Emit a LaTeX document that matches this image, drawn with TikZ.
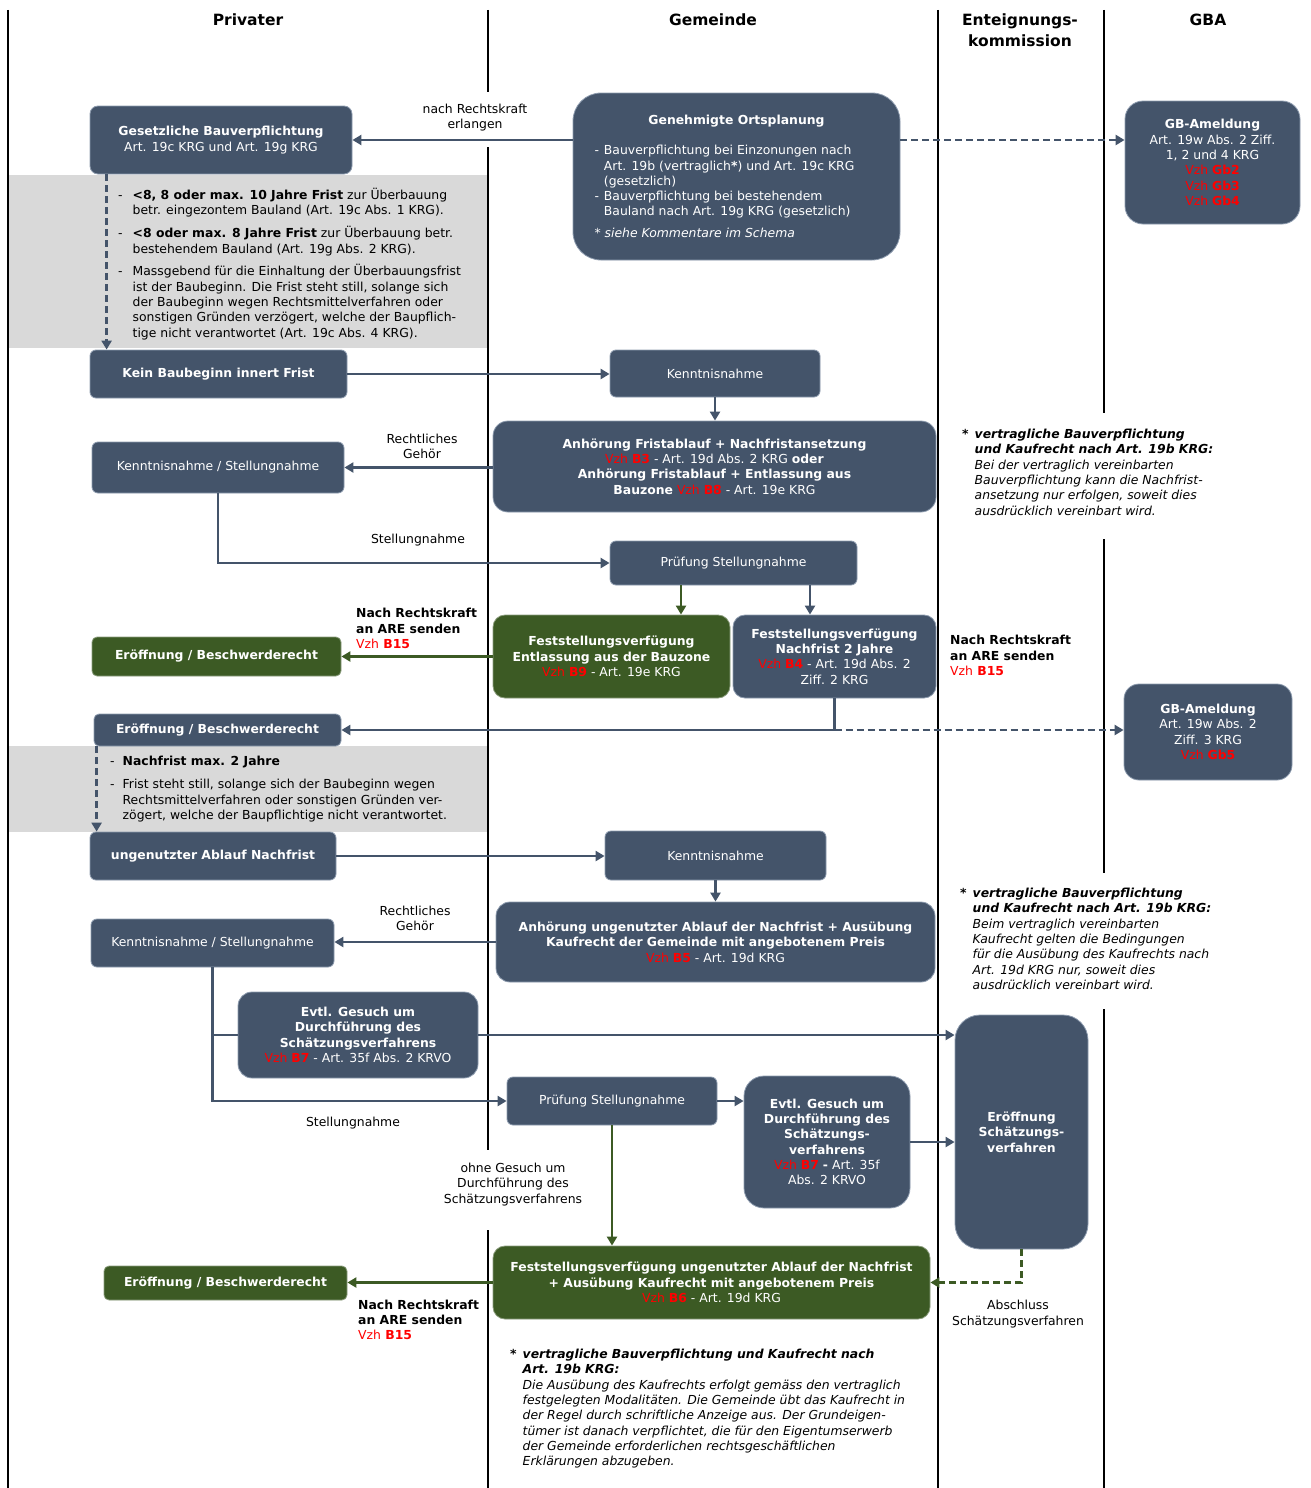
\documentclass[tikz,border=0pt]{standalone}
\usepackage{fontspec}
\setmainfont{DejaVu Sans}
\usetikzlibrary{arrows.meta}
\definecolor{boxblue}{HTML}{44546A}
\definecolor{boxgreen}{HTML}{3C5A24}
\definecolor{bandgray}{HTML}{D9D9D9}
\definecolor{vred}{HTML}{FF0000}
\definecolor{rimblue}{HTML}{8D9BAE}
\newcommand{\vzh}[1]{{\color{vred}\textmd{Vzh} \textbf{#1}}}
\newcommand{\fs}{\fontsize{12.4}{15.3}\selectfont}
\newcommand{\hfs}{\fontsize{15.5}{21}\selectfont}
\tikzset{
  bxbase/.style={fill=boxblue, draw=rimblue, line width=0.8pt, text=white, inner sep=0pt, font=\fs},
  bx/.style={bxbase, align=center},
  gbx/.style={bx, fill=boxgreen, draw=boxgreen!60!white},
  conn/.style={draw=boxblue, line width=2.4pt, -{Triangle[length=9pt,width=10pt]}},
  plainline/.style={draw=boxblue, line width=2.4pt},
  gconn/.style={draw=boxgreen, line width=2.4pt, -{Triangle[length=9pt,width=10pt]}},
  dconn/.style={conn, dash pattern=on 7pt off 4pt},
  gdconn/.style={gconn, dash pattern=on 7pt off 4pt},
  colline/.style={draw=black, line width=2pt},
  lbl/.style={font=\fs, align=center, inner sep=0pt, text=black},
  blbl/.style={font=\fs\bfseries, align=left, inner sep=0pt, text=black, anchor=west},
  hdr/.style={font=\hfs\bfseries, align=center, inner sep=0pt, text=black},
  bandtxt/.style={font=\fs, inner sep=0pt, text=black, anchor=base west},
}
\begin{document}
\begin{tikzpicture}[x=1pt,y=-1pt]
\useasboundingbox (0,0) rectangle (1311,1488);

% grey bands
\fill[bandgray] (8,175) rectangle (488,348);
\fill[bandgray] (8,746) rectangle (488,832);

% column lines
\draw[colline] (8,10) -- (8,1488);
\draw[colline] (488,10) -- (488,92);
\draw[colline] (488,147) -- (488,1150);
\draw[colline] (488,1230) -- (488,1488);
\draw[colline] (938,10) -- (938,1488);
\draw[colline] (1104,10) -- (1104,413);
\draw[colline] (1104,539) -- (1104,873);
\draw[colline] (1104,1009) -- (1104,1488);

% headers
\node[hdr] (hpriv) at (248,20) {Privater};
\node[hdr] (hgem) at (713,20) {Gemeinde};
\node[hdr] (hent) at (1020,30.5) {Enteignungs-\\kommission};
\node[hdr] (hgba) at (1208,20) {GBA};

% boxes
\node[bx, rounded corners=8pt, minimum width=262pt, minimum height=68pt] (gbv) at (221,140)
  {\textbf{Gesetzliche Bauverpflichtung}\\Art. 19c KRG und Art. 19g KRG};
\node[bxbase, rounded corners=28pt, minimum width=327pt, minimum height=167pt] (go) at (736.5,176.5)
  {\parbox{284pt}{{\centering\textbf{Genehmigte Ortsplanung}\par}\vspace{16pt}%
  \noindent\begin{tabular}{@{}l@{\hspace{5pt}}l@{}}
  -&Bauverpflichtung bei Einzonungen nach\\
   &Art. 19b (vertraglich\textbf{*}) und Art. 19c KRG\\
   &(gesetzlich)\\
  -&Bauverpflichtung bei bestehendem\\
   &Bauland nach Art. 19g KRG (gesetzlich)
  \end{tabular}\par\vspace{7pt}%
  \noindent\textit{* siehe Kommentare im Schema}}};
\node[bx, rounded corners=18pt, minimum width=175pt, minimum height=123pt] (gba1) at (1212.5,162.5)
  {\textbf{GB-Ameldung}\\Art. 19w Abs. 2 Ziff.\\1, 2 und 4 KRG\\\vzh{Gb2}\\\vzh{Gb3}\\\vzh{Gb4}};
\node[bx, rounded corners=6pt, minimum width=257pt, minimum height=48pt] (kb) at (218.5,374)
  {\textbf{Kein Baubeginn innert Frist}};
\node[bx, rounded corners=6pt, minimum width=210pt, minimum height=47pt] (kn1) at (715,373.5)
  {Kenntnisnahme};
\node[bx, rounded corners=15pt, minimum width=443pt, minimum height=91pt] (af) at (714.5,466.5)
  {\textbf{Anhörung Fristablauf + Nachfristansetzung}\\\vzh{B3} - Art. 19d Abs. 2 KRG \textbf{oder}\\\textbf{Anhörung Fristablauf + Entlassung aus}\\\textbf{Bauzone} \vzh{B8} - Art. 19e KRG};
\node[bx, rounded corners=6pt, minimum width=252pt, minimum height=51pt] (ks1) at (218,467.5)
  {Kenntnisnahme / Stellungnahme};
\node[bx, rounded corners=6pt, minimum width=247pt, minimum height=44pt] (ps1) at (733.5,563)
  {Prüfung Stellungnahme};
\node[gbx, rounded corners=12pt, minimum width=237pt, minimum height=83pt] (fe) at (611.5,656.5)
  {\textbf{Feststellungsverfügung}\\\textbf{Entlassung aus der Bauzone}\\\vzh{B9} - Art. 19e KRG};
\node[bx, rounded corners=12pt, minimum width=203pt, minimum height=83pt] (fn) at (834.5,656.5)
  {\textbf{Feststellungsverfügung}\\\textbf{Nachfrist 2 Jahre}\\\vzh{B4} - Art. 19d Abs. 2\\Ziff. 2 KRG};
\node[gbx, rounded corners=5pt, minimum width=249pt, minimum height=39pt] (eb1) at (216.5,656.5)
  {\textbf{Eröffnung / Beschwerderecht}};
\node[bx, rounded corners=5pt, minimum width=247pt, minimum height=32pt] (eb2) at (217.5,730)
  {\textbf{Eröffnung / Beschwerderecht}};
\node[bx, rounded corners=15pt, minimum width=168pt, minimum height=96pt] (gba2) at (1208,732)
  {\textbf{GB-Ameldung}\\Art. 19w Abs. 2\\Ziff. 3 KRG\\\vzh{Gb5}};
\node[bx, rounded corners=6pt, minimum width=246pt, minimum height=48pt] (ua) at (213,856)
  {\textbf{ungenutzter Ablauf Nachfrist}};
\node[bx, rounded corners=6pt, minimum width=221pt, minimum height=49pt] (kn2) at (715.5,855.5)
  {Kenntnisnahme};
\node[bx, rounded corners=14pt, minimum width=439pt, minimum height=80pt] (au) at (715.5,942)
  {\textbf{Anhörung ungenutzter Ablauf der Nachfrist + Ausübung}\\\textbf{Kaufrecht der Gemeinde mit angebotenem Preis}\\\vzh{B5} - Art. 19d KRG};
\node[bx, rounded corners=6pt, minimum width=243pt, minimum height=48pt] (ks2) at (212.5,943)
  {Kenntnisnahme / Stellungnahme};
\node[bx, rounded corners=14pt, minimum width=240pt, minimum height=86pt] (eg1) at (358,1035)
  {\textbf{Evtl. Gesuch um}\\\textbf{Durchführung des}\\\textbf{Schätzungsverfahrens}\\\vzh{B7} - Art. 35f Abs. 2 KRVO};
\node[bx, rounded corners=6pt, minimum width=210pt, minimum height=48pt] (ps2) at (612,1101)
  {Prüfung Stellungnahme};
\node[bx, rounded corners=20pt, minimum width=166pt, minimum height=132pt] (eg2) at (827,1142)
  {\textbf{Evtl. Gesuch um}\\\textbf{Durchführung des}\\\textbf{Schätzungs-}\\\textbf{verfahrens}\\\vzh{B7} \textbf{-} Art. 35f\\Abs. 2 KRVO};
\node[bx, rounded corners=25pt, minimum width=133pt, minimum height=234pt] (es) at (1021.5,1132)
  {\textbf{Eröffnung}\\\textbf{Schätzungs-}\\\textbf{verfahren}};
\node[gbx, rounded corners=12pt, minimum width=437pt, minimum height=73pt] (fu) at (711.5,1282.5)
  {\textbf{Feststellungsverfügung ungenutzter Ablauf der Nachfrist}\\\textbf{+ Ausübung Kaufrecht mit angebotenem Preis}\\\vzh{B6} - Art. 19d KRG};
\node[gbx, rounded corners=5pt, minimum width=243pt, minimum height=34pt] (eb3) at (225.5,1283)
  {\textbf{Eröffnung / Beschwerderecht}};

% grey band texts
\node[bandtxt] (band1) at (118,199.5) {\begin{tabular}[t]{@{}l@{\hspace{10pt}}l@{}}
-&\textbf{<8, 8 oder max. 10 Jahre Frist} zur Überbauung\\
 &betr. eingezontem Bauland (Art. 19c Abs. 1 KRG).\\[7pt]
-&\textbf{<8 oder max. 8 Jahre Frist} zur Überbauung betr.\\
 &bestehendem Bauland (Art. 19g Abs. 2 KRG).\\[7pt]
-&Massgebend für die Einhaltung der Überbauungsfrist\\
 &ist der Baubeginn. Die Frist steht still, solange sich\\
 &der Baubeginn wegen Rechtsmittelverfahren oder\\
 &sonstigen Gründen verzögert, welche der Baupflich-\\
 &tige nicht verantwortet (Art. 19c Abs. 4 KRG).
\end{tabular}};
\node[bandtxt] (band2) at (110,765.5) {\begin{tabular}[t]{@{}l@{\hspace{8pt}}l@{}}
-&\textbf{Nachfrist max. 2 Jahre}\\[8pt]
-&Frist steht still, solange sich der Baubeginn wegen\\
 &Rechtsmittelverfahren oder sonstigen Gründen ver-\\
 &zögert, welche der Baupflichtige nicht verantwortet.
\end{tabular}};

% notes
\node[bandtxt] (note1) at (962,438.5) {\begin{tabular}[t]{@{}l@{\hspace{6pt}}l@{}}
\textbf{*}&\textbf{\textit{vertragliche Bauverpflichtung}}\\
 &\textbf{\textit{und Kaufrecht nach Art. 19b KRG:}}\\
 &\textit{Bei der vertraglich vereinbarten}\\
 &\textit{Bauverpflichtung kann die Nachfrist-}\\
 &\textit{ansetzung nur erfolgen, soweit dies}\\
 &\textit{ausdrücklich vereinbart wird.}
\end{tabular}};
\node[bandtxt] (note2) at (960,897.5) {\begin{tabular}[t]{@{}l@{\hspace{6pt}}l@{}}
\textbf{*}&\textbf{\textit{vertragliche Bauverpflichtung}}\\
 &\textbf{\textit{und Kaufrecht nach Art. 19b KRG:}}\\
 &\textit{Beim vertraglich vereinbarten}\\
 &\textit{Kaufrecht gelten die Bedingungen}\\
 &\textit{für die Ausübung des Kaufrechts nach}\\
 &\textit{Art. 19d KRG nur, soweit dies}\\
 &\textit{ausdrücklich vereinbart wird.}
\end{tabular}};
\node[bandtxt] (note3) at (510,1358.5) {\begin{tabular}[t]{@{}l@{\hspace{6pt}}l@{}}
\textbf{*}&\textbf{\textit{vertragliche Bauverpflichtung und Kaufrecht nach}}\\
 &\textbf{\textit{Art. 19b KRG:}}\\
 &\textit{Die Ausübung des Kaufrechts erfolgt gemäss den vertraglich}\\
 &\textit{festgelegten Modalitäten. Die Gemeinde übt das Kaufrecht in}\\
 &\textit{der Regel durch schriftliche Anzeige aus. Der Grundeigen-}\\
 &\textit{tümer ist danach verpflichtet, die für den Eigentumserwerb}\\
 &\textit{der Gemeinde erforderlichen rechtsgeschäftlichen}\\
 &\textit{Erklärungen abzugeben.}
\end{tabular}};

% labels
\node[lbl] (lrk) at (475,117.5) {nach Rechtskraft\\erlangen};
\node[lbl] (lrg1) at (422,446.5) {Rechtliches\\Gehör};
\node[lbl] (lst1) at (418,540) {Stellungnahme};
\node[lbl] (lrg2) at (415,918.5) {Rechtliches\\Gehör};
\node[lbl] (lst2) at (353,1123) {Stellungnahme};
\node[lbl] (lohne) at (513,1184.5) {ohne Gesuch um\\Durchführung des\\Schätzungsverfahrens};
\node[lbl] (labs) at (1018,1314) {Abschluss\\Schätzungsverfahren};
\node[blbl] (lare1) at (356,628.5) {Nach Rechtskraft\\an ARE senden\\\vzh{B15}};
\node[blbl] (lare2) at (950,655.5) {Nach Rechtskraft\\an ARE senden\\\vzh{B15}};
\node[blbl] (lare3) at (358,1320) {Nach Rechtskraft\\an ARE senden\\\vzh{B15}};

% connectors
\draw[conn] (go.west |- gbv.east) -- (gbv.east);
\draw[dconn] (go.east |- gbv.east) -- (gba1.west |- gbv.east);
\draw[dconn] ([xshift=17pt]gbv.south west) -- ([xshift=17pt]kb.north west);
\draw[conn] (kb.east) -- (kb.east -| kn1.west);
\draw[conn] (kn1.south) -- (kn1.south |- af.north);
\draw[conn] (af.west |- ks1.east) -- (ks1.east);
\draw[conn] (ks1.south) |- (ps1.west);
\coordinate (fetop) at ([xshift=69.5pt]fe.north);
\draw[gconn] (ps1.south -| fetop) -- (fetop);
\coordinate (fntop) at ([xshift=-24.5pt]fn.north);
\draw[conn] (ps1.south -| fntop) -- (fntop);
\draw[gconn] (fe.west) -- (eb1.east);
\draw[conn] (fn.south) |- (eb2.east);
\draw[dconn] (fn.south |- eb2.east) -- (gba2.west |- eb2.east);
\draw[dconn] ([xshift=3pt]eb2.south west) -- ([xshift=7pt]ua.north west);
\draw[conn] (ua.east) -- (ua.east -| kn2.west);
\draw[conn] (kn2.south) -- (kn2.south |- au.north);
\draw[conn] (au.west) -- (au.west -| ks2.east);
\draw[conn] (ks2.south) |- (ps2.west);
\draw[plainline] (ks2.south |- eg1.west) -- (eg1.west);
\draw[conn] (eg1.east) -- (eg1.east -| es.west);
\draw[conn] (ps2.east) -- (ps2.east -| eg2.west);
\draw[conn] (eg2.east) -- (eg2.east -| es.west);
\draw[gconn] (ps2.south) -- (ps2.south |- fu.north);
\draw[gdconn] (es.south) |- (fu.east);
\draw[gconn] (fu.west) -- (fu.west -| eb3.east);
\end{tikzpicture}
\end{document}
